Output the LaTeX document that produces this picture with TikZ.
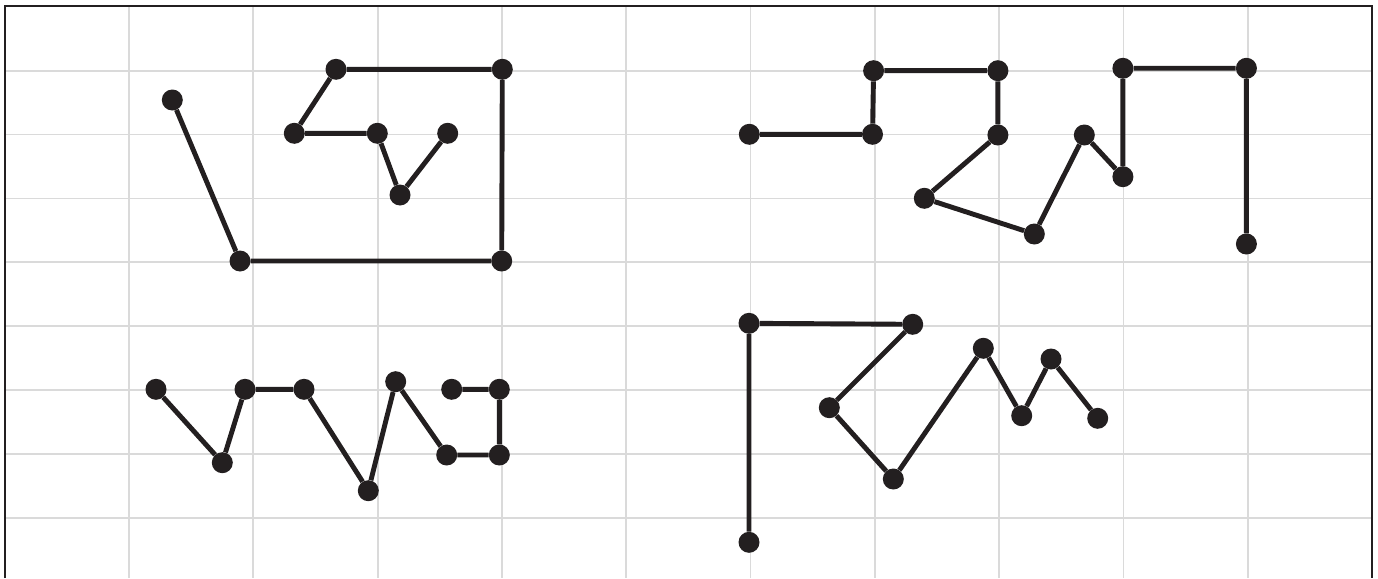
\documentclass[tikz,border=0pt]{standalone}
\definecolor{ink}{HTML}{231F20}
\definecolor{gridc}{HTML}{DADADA}
\begin{document}
\begin{tikzpicture}[x=1pt,y=-1pt,
  dot/.style={circle,fill=ink,inner sep=0pt,minimum size=21pt},
  seg/.style={draw=ink,line width=4.9pt},
  gridline/.style={draw=gridc,line width=1.8pt},
  frame/.style={draw=ink,line width=2.8pt}]
\useasboundingbox (0,0) rectangle (1378,578);
% grid
\foreach \k in {0,...,9} \draw[gridline] ({129+124.3*\k},6) -- ({129+124.3*\k},578);
\foreach \j in {0,...,7} \draw[gridline] (5,{70.6+63.9*\j}) -- (1372,{70.6+63.9*\j});
% frame
\draw[frame] (5,578) -- (5,6) -- (1372,6) -- (1372,578);
% figure A
\node[dot] (a1) at (172.3,100) {};
\node[dot] (a2) at (240,261) {};
\node[dot] (a3) at (501.7,261) {};
\node[dot] (a4) at (502.3,69.3) {};
\node[dot] (a5) at (336,69.3) {};
\node[dot] (a6) at (294.3,133.3) {};
\node[dot] (a7) at (377.3,133.3) {};
\node[dot] (a8) at (400,195) {};
\node[dot] (a9) at (447.7,133.3) {};
\draw[seg] (a1) -- (a2) -- (a3) -- (a4) -- (a5) -- (a6) -- (a7) -- (a8) -- (a9);
% figure B
\node[dot] (b1) at (749.3,134.3) {};
\node[dot] (b2) at (872.5,134.3) {};
\node[dot] (b3) at (873.6,70.7) {};
\node[dot] (b4) at (997.9,70.7) {};
\node[dot] (b5) at (997.9,135) {};
\node[dot] (b6) at (924.3,198.3) {};
\node[dot] (b7) at (1034.3,234) {};
\node[dot] (b8) at (1084.3,135) {};
\node[dot] (b9) at (1122.9,176.7) {};
\node[dot] (b10) at (1122.9,68.3) {};
\node[dot] (b11) at (1246.4,68.3) {};
\node[dot] (b12) at (1246.4,244) {};
\draw[seg] (b1) -- (b2) -- (b3) -- (b4) -- (b5) -- (b6) -- (b7) -- (b8) -- (b9) -- (b10) -- (b11) -- (b12);
% figure C
\node[dot] (c1) at (156,389.3) {};
\node[dot] (c2) at (222.3,462.7) {};
\node[dot] (c3) at (245,389.3) {};
\node[dot] (c4) at (304,389.3) {};
\node[dot] (c5) at (368.3,490.7) {};
\node[dot] (c6) at (395.7,381.7) {};
\node[dot] (c7) at (446.7,455) {};
\node[dot] (c8) at (499.3,455) {};
\node[dot] (c9) at (499.3,389.3) {};
\node[dot] (c10) at (451.7,389.3) {};
\draw[seg] (c1) -- (c2) -- (c3) -- (c4) -- (c5) -- (c6) -- (c7) -- (c8) -- (c9) -- (c10);
% figure D
\node[dot] (d1) at (749,542.3) {};
\node[dot] (d2) at (749,323.3) {};
\node[dot] (d3) at (912.7,324.3) {};
\node[dot] (d4) at (829.3,407.7) {};
\node[dot] (d5) at (893.3,479) {};
\node[dot] (d6) at (983.3,348.3) {};
\node[dot] (d7) at (1021.7,415.7) {};
\node[dot] (d8) at (1051,359) {};
\node[dot] (d9) at (1097.7,418.3) {};
\draw[seg] (d1) -- (d2) -- (d3) -- (d4) -- (d5) -- (d6) -- (d7) -- (d8) -- (d9);
\end{tikzpicture}
\end{document}
